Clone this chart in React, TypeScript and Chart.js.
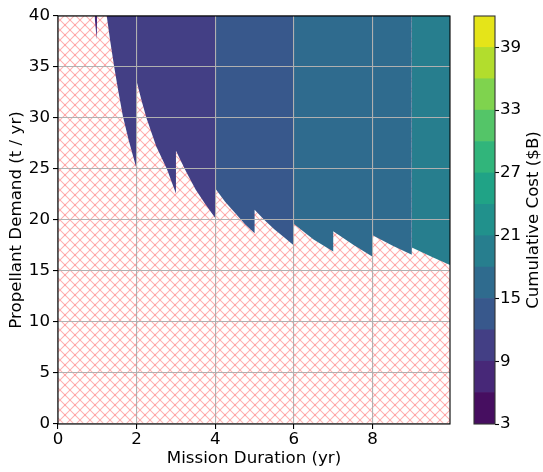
import React, { useEffect, useRef } from 'react';
import { Chart, registerables } from 'chart.js';

Chart.register(...registerables);

// Axes
const xMax = 9.97;
const yMin = 0;
const yMax = 40;
const yStep = 5;
const xTicks = [0, 2, 4, 6, 8];
const xLabel = 'Mission Duration (yr)';
const yLabel = 'Propellant Demand (t / yr)';

// Colour levels (Cumulative Cost, $B) and colorbar ticks
const costLevels = [3, 6, 9, 12, 15, 18, 21, 24, 27, 30, 33, 36, 39, 42];
const levelColors = [
  '#460e60', '#472878', '#433f85', '#38588c', '#2f6b8e', '#277e8e', '#21918c',
  '#20a386', '#31b57b', '#54c568', '#7fd34e', '#b2dd2d', '#e5e419',
];
const cbTicks = [3, 9, 15, 21, 27, 33, 39];
const cbLabel = 'Cumulative Cost ($B)';

// Feasible regions: lower boundary (duration, demand) and cost band index
const sliverDur = [0.93, 0.985, 0.995];
const sliverDem = [40, 37.7, 40];
const sliverBand = 1;

const regionADur = [1.24, 1.33, 1.43, 1.54, 1.65, 1.8, 2.0, 2.0, 2.12, 2.25, 2.5, 2.77, 3.0, 3.0, 3.25, 3.5, 3.74, 4.0];
const regionADem = [40, 37.5, 35.0, 32.5, 30.2, 27.8, 25.0, 33.6, 31.8, 30.0, 27.2, 25.0, 22.6, 26.8, 24.8, 23.0, 21.6, 20.2];
const regionABand = 2;

const regionBDur = [4.0, 4.25, 4.5, 4.75, 5.0, 5.0, 5.25, 5.5, 5.75, 6.0];
const regionBDem = [23.1, 21.8, 20.7, 19.6, 18.7, 21.0, 20.0, 19.1, 18.3, 17.5];
const regionBBand = 3;

const regionCDur = [6.0, 6.5, 7.0, 7.0, 7.5, 8.0, 8.0, 8.5, 9.0];
const regionCDem = [19.6, 18.1, 16.9, 18.9, 17.6, 16.4, 18.5, 17.5, 16.6];
const regionCBand = 4;

const regionDDur = [9.0, 9.5, 9.97];
const regionDDem = [17.3, 16.4, 15.6];
const regionDBand = 5;

const FONT = { family: "'DejaVu Sans', sans-serif", size: 16.67 };

export default function App() {
  const mainRef = useRef<HTMLCanvasElement>(null);
  const cbRef = useRef<HTMLCanvasElement>(null);

  useEffect(() => {
    if (!mainRef.current || !cbRef.current) return;

    // hatch pattern
    const T = 10;
    const tile = document.createElement('canvas');
    tile.width = T;
    tile.height = T;
    const tc = tile.getContext('2d')!;
    tc.fillStyle = '#ffffff';
    tc.fillRect(0, 0, T, T);
    tc.lineWidth = 1.05;
    tc.strokeStyle = 'rgba(255,0,0,0.31)';
    tc.beginPath();
    for (const k of [-T, 0, T]) {
      tc.moveTo(k, 0);
      tc.lineTo(k + T, T);
    }
    tc.stroke();
    tc.beginPath();
    for (const k of [-T, 0, T]) {
      tc.moveTo(k, T);
      tc.lineTo(k + T, 0);
    }
    tc.stroke();
    const pattern = tc.createPattern(tile, 'repeat');

    const regions = [
      { dur: sliverDur, dem: sliverDem, band: sliverBand },
      { dur: regionADur, dem: regionADem, band: regionABand },
      { dur: regionBDur, dem: regionBDem, band: regionBBand },
      { dur: regionCDur, dem: regionCDem, band: regionCBand },
      { dur: regionDDur, dem: regionDDem, band: regionDBand },
    ];

    const regionDs = regions.map((r) => ({
      data: r.dur.map((x, i) => ({ x, y: r.dem[i] })),
      showLine: true,
      fill: 'end',
      backgroundColor: levelColors[r.band],
      borderColor: 'rgba(0,0,0,0)',
      borderWidth: 0,
      pointRadius: 0,
      tension: 0,
    }));

    const hatchDs = {
      data: [
        { x: 0, y: yMax },
        { x: xMax, y: yMax },
      ],
      showLine: true,
      fill: 'origin',
      backgroundColor: pattern,
      borderColor: 'rgba(0,0,0,0)',
      borderWidth: 0,
      pointRadius: 0,
    };

    const spine = {
      id: 'spine',
      afterDraw(chart: any) {
        const { ctx, chartArea } = chart;
        ctx.save();
        ctx.strokeStyle = '#000';
        ctx.lineWidth = 1.1;
        ctx.strokeRect(chartArea.left, chartArea.top, chartArea.right - chartArea.left, chartArea.bottom - chartArea.top);
        ctx.restore();
      },
    };

    const gridOpts = {
      color: '#b0b0b0',
      lineWidth: 1.1,
      tickColor: '#000',
      tickWidth: 1.1,
      tickLength: 5,
      z: 1,
    };

    const main = new Chart(mainRef.current, {
      type: 'scatter',
      data: { datasets: [...regionDs, hatchDs] as any },
      options: {
        responsive: false,
        animation: false,
        layout: { padding: { left: 0, right: 12, top: 16, bottom: 0 } },
        plugins: { legend: { display: false }, tooltip: { enabled: false } },
        scales: {
          x: {
            type: 'linear',
            min: 0,
            max: xMax,
            afterBuildTicks: (s: any) => {
              s.ticks = xTicks.map((v) => ({ value: v }));
            },
            afterFit: (s: any) => {
              s.height = 48;
            },
            grid: gridOpts,
            border: { display: false },
            ticks: { color: '#000', font: FONT, padding: 1, maxRotation: 0, autoSkip: false },
            title: { display: true, text: xLabel, color: '#000', font: FONT, padding: { top: 0, bottom: 3 } },
          },
          y: {
            type: 'linear',
            min: yMin,
            max: yMax,
            afterFit: (s: any) => {
              s.width = 58;
            },
            grid: gridOpts,
            border: { display: false },
            ticks: { stepSize: yStep, color: '#000', font: FONT, padding: 3 },
            title: { display: true, text: yLabel, color: '#000', font: FONT, padding: { top: 7, bottom: 0 } },
          },
        },
      } as any,
      plugins: [spine],
    });

    const cbLabelPlugin = {
      id: 'cbLabel',
      afterDraw(chart: any) {
        const { ctx, chartArea } = chart;
        ctx.save();
        ctx.strokeStyle = '#333';
        ctx.lineWidth = 1.1;
        ctx.strokeRect(chartArea.left, chartArea.top, chartArea.right - chartArea.left, chartArea.bottom - chartArea.top);
        ctx.translate(72, (chartArea.top + chartArea.bottom) / 2);
        ctx.rotate(-Math.PI / 2);
        ctx.font = "16.67px 'DejaVu Sans', sans-serif";
        ctx.fillStyle = '#000';
        ctx.textAlign = 'center';
        ctx.textBaseline = 'middle';
        ctx.fillText(cbLabel, 0, 0);
        ctx.restore();
      },
    };

    const cb = new Chart(cbRef.current, {
      type: 'bar',
      data: {
        labels: [''],
        datasets: levelColors.map((c, i) => ({
          data: [[costLevels[i], costLevels[i + 1]]],
          backgroundColor: c,
          borderWidth: 0,
          grouped: false,
          barPercentage: 1,
          categoryPercentage: 1,
        })) as any,
      },
      options: {
        responsive: false,
        animation: false,
        layout: { padding: { left: 12, right: 0, top: 16, bottom: 48 } },
        plugins: { legend: { display: false }, tooltip: { enabled: false } },
        scales: {
          x: { display: false },
          y: {
            position: 'right',
            min: costLevels[0],
            max: costLevels[costLevels.length - 1],
            afterBuildTicks: (s: any) => {
              s.ticks = cbTicks.map((v) => ({ value: v }));
            },
            afterFit: (s: any) => {
              s.width = 48;
            },
            grid: { drawOnChartArea: false, drawTicks: true, tickLength: 4, tickColor: '#000', tickWidth: 1.1 },
            border: { display: false },
            ticks: { color: '#000', font: FONT, padding: 1, autoSkip: false },
          },
        },
      } as any,
      plugins: [cbLabelPlugin],
    });

    return () => {
      main.destroy();
      cb.destroy();
    };
  }, []);

  return (
    <div style={{ position: 'fixed', left: 0, top: 0, width: 543, height: 472, background: '#fff' }}>
      <canvas
        ref={mainRef}
        width={462}
        height={472}
        style={{ position: 'absolute', left: 0, top: 0, width: 462, height: 472 }}
      />
      <canvas
        ref={cbRef}
        width={81}
        height={472}
        style={{ position: 'absolute', left: 462, top: 0, width: 81, height: 472 }}
      />
    </div>
  );
}
